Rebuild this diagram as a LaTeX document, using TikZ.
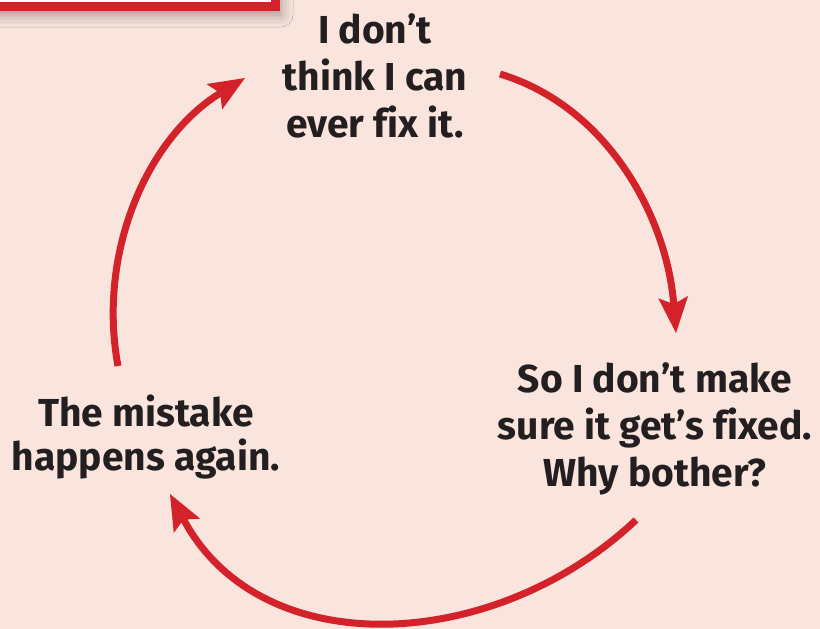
\documentclass[tikz,border=0pt]{standalone}
\usepackage{fontspec}
\usetikzlibrary{arrows.meta,shadows.blur}
\newfontfamily\cyclefont[Ligatures=NoCommon]{Fira Sans}
\definecolor{cbg}{RGB}{249,229,221}
\definecolor{cred}{RGB}{212,34,42}
\definecolor{ctext}{RGB}{35,31,32}
\begin{document}
\begin{tikzpicture}[x=1pt,y=-1pt,
  cyclearrow/.style={draw=cred, line width=7pt, -{Stealth[length=36pt,width=30pt,inset=7pt,line width=0pt]}},
  cyctext/.style={font=\cyclefont\bfseries\fontsize{39}{47}\selectfont, text=ctext, align=center, anchor=base, inner sep=0pt}]
\useasboundingbox (0,0) rectangle (820,629);
\fill[cbg] (0,0) rectangle (820,629);
\draw[cred, line width=9pt, fill=white, blur shadow={shadow xshift=6pt, shadow yshift=-9pt, shadow blur radius=12pt, shadow opacity=35}] (-30,-40) rectangle (275,6);
\node[cyctext] (top) at (375,137) {I don’t\\think I can\\ever fix it.};
\node[cyctext] (right) at (655,486) {So I don’t make\\sure it get’s fixed.\\Why bother?};
\node[cyctext] (left) at (146,470) {The mistake\\[-3pt]happens again.};
\coordinate (a1s) at (500,74); \coordinate (a1e) at (676,333);
\coordinate (a2s) at (636,520); \coordinate (a2e) at (170,494);
\coordinate (a3s) at (118,366); \coordinate (a3e) at (245,78);
\draw[cyclearrow] (a1s) .. controls (609,107) and (667,219) .. (a1e);
\draw[cyclearrow] (a2s) .. controls (494,654) and (261,664) .. (a2e);
\draw[cyclearrow] (a3s) .. controls (97,253) and (147,138) .. (a3e);
\end{tikzpicture}
\end{document}
